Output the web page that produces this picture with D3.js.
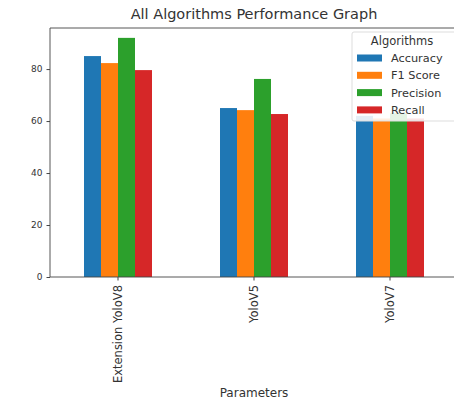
<!DOCTYPE html>
<html><head><meta charset="utf-8">
<script src="https://cdn.jsdelivr.net/npm/d3@7"></script>
<style>body{margin:0;background:#fff;} svg{display:block;font-family:"DejaVu Sans",sans-serif;}</style>
</head><body>
<svg id="chart" width="454" height="403"></svg>
<script>
const categories = ["Extension YoloV8", "YoloV5", "YoloV7"];
const seriesNames = ["Accuracy", "F1 Score", "Precision", "Recall"];
const accuracy = [85, 65, 62];
const f1Score = [82.3, 64.2, 61];
const precision = [92, 76.2, 63];
const recall = [79.6, 62.7, 61];
const yTicks = [0, 20, 40, 60, 80];
const colors = ["#1f77b4", "#ff7f0e", "#2ca02c", "#d62728"];
const seriesValues = [accuracy, f1Score, precision, recall];

const svg = d3.select("#chart");
const m = {left: 50, right: -4, top: 28, bottom: 126};
const W = 454, H = 403;
const x = d3.scaleBand().domain(categories).range([m.left, W - m.right]).paddingInner(0.5).paddingOuter(0.25);
const yMax = 95.8;
const y = d3.scaleLinear().domain([0, yMax]).range([H - m.bottom, m.top]);
const x1 = d3.scaleBand().domain(seriesNames).range([0, x.bandwidth()]);

const g = svg.append("g");
categories.forEach((c, ci) => {
  seriesNames.forEach((s, si) => {
    const v = seriesValues[si][ci];
    g.append("rect").attr("x", x(c) + x1(s)).attr("width", x1.bandwidth())
      .attr("y", y(v)).attr("height", y(0) - y(v)).attr("fill", colors[si]);
  });
});

// spines (left, top, bottom)
const sp = svg.append("g").attr("stroke", "#444").attr("stroke-width", 0.9);
sp.append("line").attr("x1", m.left).attr("x2", m.left).attr("y1", m.top).attr("y2", y(0));
sp.append("line").attr("x1", m.left).attr("x2", W).attr("y1", m.top).attr("y2", m.top);
sp.append("line").attr("x1", m.left).attr("x2", W).attr("y1", y(0)).attr("y2", y(0));

const yAxis = svg.append("g").attr("transform", `translate(${m.left},0)`)
  .call(d3.axisLeft(y).tickValues(yTicks).tickSize(3.5).tickPadding(4));
yAxis.select(".domain").remove();
yAxis.selectAll("text").attr("font-size", 9).attr("fill", "#333").attr("font-family", "DejaVu Sans");
yAxis.selectAll("line").attr("stroke", "#444");

const xAxis = svg.append("g").attr("transform", `translate(0,${y(0)})`)
  .call(d3.axisBottom(x).tickSize(3.5).tickPadding(3.5));
xAxis.select(".domain").remove();
xAxis.selectAll("line").attr("stroke", "#444");
xAxis.selectAll("text").attr("font-size", 11.5).attr("fill", "#333").attr("font-family", "DejaVu Sans")
  .attr("transform", "rotate(-90)").attr("text-anchor", "end").attr("dy", "0.35em")
  .attr("x", -8).attr("y", 0);

svg.append("text").attr("x", 254).attr("y", 19).attr("text-anchor", "middle")
  .attr("font-size", 14.5).attr("fill", "#333").text("All Algorithms Performance Graph");
svg.append("text").attr("x", 254).attr("y", 397).attr("text-anchor", "middle")
  .attr("font-size", 12).attr("fill", "#333").text("Parameters");

// legend
const lg = svg.append("g").attr("transform", "translate(352,32)");
lg.append("rect").attr("width", 106).attr("height", 89).attr("rx", 2)
  .attr("fill", "#fff").attr("fill-opacity", 0.88).attr("stroke", "#ddd");
lg.append("text").attr("x", 50).attr("y", 13).attr("text-anchor", "middle").attr("font-size", 11.5)
  .attr("fill", "#333").text("Algorithms");
seriesNames.forEach((s, i) => {
  const yy = 26 + i * 17.3;
  lg.append("rect").attr("x", 5).attr("y", yy - 3.5).attr("width", 25).attr("height", 7).attr("fill", colors[i]);
  lg.append("text").attr("x", 39).attr("y", yy).attr("dy", "0.35em").attr("font-size", 11.3)
    .attr("fill", "#333").text(s);
});
</script>
</body></html>
